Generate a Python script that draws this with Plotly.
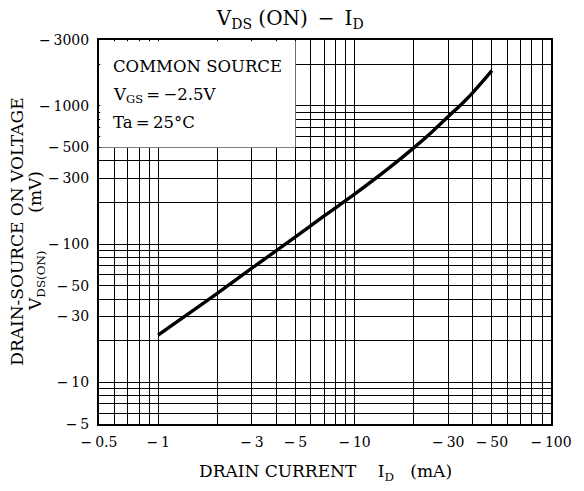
import math
import plotly.graph_objects as go

# ---- data (magnitudes; axes are labelled negative) ----
drain_current_mA = [1, 2, 3, 5, 7, 10, 15, 20, 25, 30, 35, 40, 45, 50]
vds_on_mV = [22, 44, 67, 113, 160, 230, 356, 497, 657, 840, 1030, 1250, 1510, 1800]

# ---- grid / tick definitions ----
x_grid_vals = [0.5, 0.6, 0.7, 0.8, 0.9, 1, 2, 3, 4, 5, 6, 7, 8, 9,
               10, 20, 30, 40, 50, 60, 70, 80, 90, 100]
x_label_vals = [0.5, 1, 3, 5, 10, 30, 50, 100]
x_label_text = ["\u2212\u20090.5", "\u2212\u20091", "\u2212\u20093", "\u2212\u20095",
                "\u2212\u200910", "\u2212\u200930", "\u2212\u200950", "\u2212\u2009100"]

y_grid_vals = [5, 6, 7, 8, 9, 10, 20, 30, 40, 50, 60, 70, 80, 90,
               100, 200, 300, 400, 500, 600, 700, 800, 900, 1000, 2000, 3000]
y_label_vals = [5, 10, 30, 50, 100, 300, 500, 1000, 3000]
y_label_text = ["\u2212\u20095", "\u2212\u200910", "\u2212\u200930", "\u2212\u200950",
                "\u2212\u2009100", "\u2212\u2009300", "\u2212\u2009500",
                "\u2212\u20091000", "\u2212\u20093000"]

x_range = [0.5, 100]
y_range = [5, 3000]
legend_box_x = [0.5, 5]
legend_box_y = [500, 3000]

FONT = "DejaVu Serif"


def frac(v, rng):
    return (math.log10(v) - math.log10(rng[0])) / (math.log10(rng[1]) - math.log10(rng[0]))


fig = go.Figure()
fig.add_trace(go.Scatter(
    x=drain_current_mA, y=vds_on_mV, mode="lines",
    line=dict(color="black", width=3.4, shape="spline", smoothing=0.8),
    showlegend=False, hoverinfo="skip",
))

axis_common = dict(
    type="log", showgrid=True, gridcolor="black", gridwidth=1,
    showline=True, linecolor="black", linewidth=2, mirror=True,
    ticks="", zeroline=False,
    tickfont=dict(family=FONT, size=14, color="black"),
)

fig.update_xaxes(
    **axis_common,
    range=[math.log10(x_range[0]), math.log10(x_range[1])],
    tickmode="array", tickvals=x_label_vals, ticktext=x_label_text,
    minor=dict(tickmode="array",
               tickvals=[v for v in x_grid_vals if v not in x_label_vals],
               showgrid=True, gridcolor="black", gridwidth=1, ticks=""),
    ticklabelstandoff=4,
)
fig.update_yaxes(
    **axis_common,
    range=[math.log10(y_range[0]), math.log10(y_range[1])],
    tickmode="array", tickvals=y_label_vals, ticktext=y_label_text,
    minor=dict(tickmode="array",
               tickvals=[v for v in y_grid_vals if v not in y_label_vals],
               showgrid=True, gridcolor="black", gridwidth=1, ticks=""),
    ticklabelstandoff=5,
)

# white legend box covering the grid in the upper-left corner
fig.add_shape(
    type="rect", xref="paper", yref="paper",
    x0=1.2 / 460, x1=frac(legend_box_x[1], x_range),
    y0=frac(legend_box_y[0], y_range), y1=1 - 1.2 / 384,
    fillcolor="white", line=dict(width=0), layer="above",
)

txt_font = dict(family=FONT, size=16.5, color="black")
for text, yp in [("COMMON SOURCE", 0.930),
                 ("V<sub>GS</sub>\u2009=\u2009\u22122.5V", 0.856),
                 ("Ta\u2009=\u200925\u00b0C", 0.784)]:
    fig.add_annotation(text=text, xref="paper", yref="paper", x=0.026, y=yp,
                       xanchor="left", yanchor="middle", showarrow=False,
                       font=txt_font)

# y-axis title (two rotated lines)
fig.add_annotation(text="DRAIN-SOURCE ON VOLTAGE", xref="paper", yref="paper",
                   x=-0.182, y=0.500, textangle=-90, showarrow=False,
                   xanchor="center", yanchor="middle",
                   font=dict(family=FONT, size=17, color="black"))
fig.add_annotation(text="V<sub>DS(ON)</sub>" + "\u00a0" * 7 + "(mV)",
                   xref="paper", yref="paper",
                   x=-0.137, y=0.477, textangle=-90, showarrow=False,
                   xanchor="center", yanchor="middle",
                   font=dict(family=FONT, size=17, color="black"))

# x-axis title
fig.add_annotation(text="DRAIN CURRENT" + "\u00a0" * 4 + "I<sub>D</sub>" + "\u00a0" * 3 + "(mA)",
                   xref="paper", yref="paper", x=0.502, y=-0.1276,
                   xanchor="center", yanchor="middle", showarrow=False,
                   font=dict(family=FONT, size=17, color="black"))

fig.update_layout(
    width=584, height=491,
    margin=dict(l=99, r=25, t=40, b=67),
    paper_bgcolor="white", plot_bgcolor="white",
    title=dict(text="V<sub>DS</sub> (ON)\u2002\u2212\u2002I<sub>D</sub>",
               x=0.497, xref="container", xanchor="center",
               y=0.963, yref="container", yanchor="middle",
               font=dict(family=FONT, size=20, color="black")),
)

fig.write_html("out.html",
               config={"displayModeBar": False},
               post_script="document.body.style.margin='0px';")
